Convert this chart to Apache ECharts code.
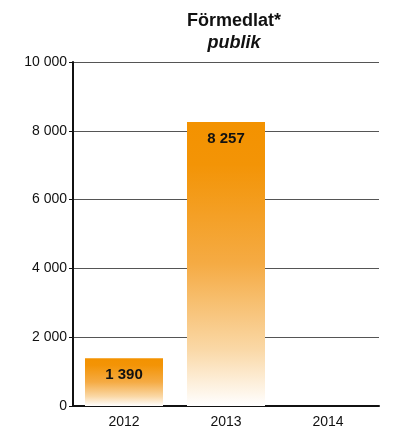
<!DOCTYPE html>
<html><head><meta charset="utf-8">
<script src="https://cdn.jsdelivr.net/npm/echarts@6/dist/echarts.min.js"></script>
<style>html,body{margin:0;padding:0;background:#fff}#c{width:404px;height:432px}</style>
</head><body><div id="c"></div>
<script>
const categories = ['2012', '2013', '2014'];
const values = [1390, 8257, null];
const titleMain = 'Förmedlat*';
const titleSub = 'publik';
const fmt = v => String(v).replace(/\B(?=(\d{3})+(?!\d))/g, ' ');
const chart = echarts.init(document.getElementById('c'));
const grad = new echarts.graphic.LinearGradient(0, 0, 0, 1, [
  {offset: 0, color: '#F39200'},
  {offset: 0.15, color: '#F39406'},
  {offset: 0.5, color: '#F5AB44'},
  {offset: 0.8, color: '#FAD8A6'},
  {offset: 1, color: '#FFFFFF'}
]);
chart.setOption({
  animation: false,
  textStyle: {fontFamily: 'Liberation Sans, Arial, sans-serif'},
  title: {
    text: titleMain, subtext: titleSub, left: 229, top: 6, textAlign: 'center', itemGap: 2,
    textStyle: {fontSize: 18, fontWeight: 'bold', color: '#111', fontFamily: 'Liberation Sans', lineHeight: 20},
    subtextStyle: {fontSize: 18, fontWeight: 'bold', fontStyle: 'italic', color: '#111', fontFamily: 'Liberation Sans', lineHeight: 20}
  },
  grid: {left: 73, right: 25, top: 62, bottom: 26, containLabel: false},
  xAxis: {
    type: 'category', data: categories,
    axisLine: {lineStyle: {color: '#111', width: 2}},
    axisTick: {show: false},
    axisLabel: {color: '#111', fontSize: 14, margin: 9}
  },
  yAxis: {
    type: 'value', min: 0, max: 10000, interval: 2000,
    axisLine: {show: true, lineStyle: {color: '#111', width: 2}},
    axisTick: {show: true, length: 4, lineStyle: {color: '#111'}},
    axisLabel: {color: '#111', fontSize: 14, margin: 6, formatter: fmt},
    splitLine: {lineStyle: {color: '#555', width: 1}}
  },
  series: [{
    type: 'bar', data: values, barWidth: 78,
    itemStyle: {color: grad},
    label: {show: true, position: 'insideTop', distance: 9, color: '#111', fontSize: 15, fontWeight: 'bold', formatter: p => fmt(p.value)}
  }]
});
</script></body></html>
